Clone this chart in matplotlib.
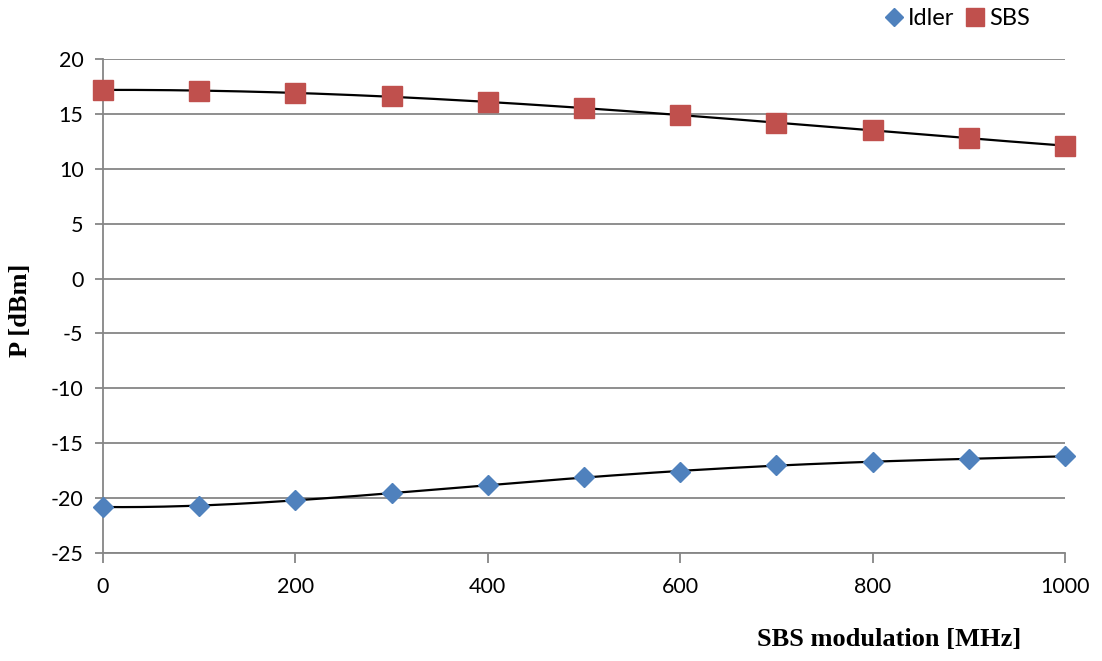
import numpy as np
import matplotlib.pyplot as plt

# SBS modulation sweep, measured powers
modulacion = [0, 100, 200, 300, 400, 500, 600, 700, 800, 900, 1000]
idler = [-20.8, -20.7, -20.2, -19.55, -18.8, -18.1, -17.6, -17.0, -16.7, -16.4, -16.2]
sbs = [17.2, 17.1, 16.9, 16.6, 16.1, 15.5, 14.9, 14.2, 13.5, 12.8, 12.1]

gris = '#868686'
plt.rcParams['axes.unicode_minus'] = False

fig = plt.figure(figsize=(11.02, 6.61), dpi=100)
ax = fig.add_axes([0.0935, 0.1634, 0.8729, 0.7473])

# trendlines (polynomial fit)
xs = np.linspace(0, 1000, 300)
for serie in (idler, sbs):
    coef = np.polyfit(modulacion, serie, 4)
    ax.plot(xs, np.polyval(coef, xs), color='black', lw=1.6, zorder=3)

ax.plot(modulacion, idler, 'D', color='#4F81BD', ms=10.5, mec='#4F81BD', zorder=4,
        clip_on=False, label='Idler')
ax.plot(modulacion, sbs, 's', color='#C0504D', ms=14.5, mec='#C0504D', zorder=4,
        clip_on=False, label='SBS')

ax.set_xlim(0, 1000)
ax.set_ylim(-25, 20)
ax.set_xticks(range(0, 1001, 200))
ax.set_yticks(range(-25, 21, 5))
ax.grid(axis='y', color=gris, lw=1.3)
ax.set_axisbelow(True)
for lado in ('top', 'right'):
    ax.spines[lado].set_visible(False)
for lado in ('left', 'bottom'):
    ax.spines[lado].set_color(gris)
    ax.spines[lado].set_linewidth(1.3)
ax.tick_params(axis='y', colors=gris, length=6, width=1.3, labelcolor='black', pad=8)
ax.tick_params(axis='x', colors=gris, length=7, width=1.3, labelcolor='black', pad=10)
for t in ax.get_xticklabels() + ax.get_yticklabels():
    t.set_family('Lato')
    t.set_fontsize(15.5)

fig.text(0.019, 0.53, 'P [dBm]', rotation=90, ha='center', va='center',
         family='Liberation Serif', weight='bold', fontsize=19)
fig.text(0.807, 0.032, 'SBS modulation [MHz]', ha='center', va='center',
         family='Liberation Serif', weight='bold', fontsize=19)

leg = fig.legend(loc='center right', bbox_to_anchor=(0.935, 0.972), ncol=2, frameon=False,
                 prop={'family': 'Lato', 'size': 17}, handlelength=0.8,
                 handletextpad=0.2, columnspacing=0.5, markerscale=0.92,
                 borderpad=0, borderaxespad=0)

fig.savefig('out.png', dpi=100)
